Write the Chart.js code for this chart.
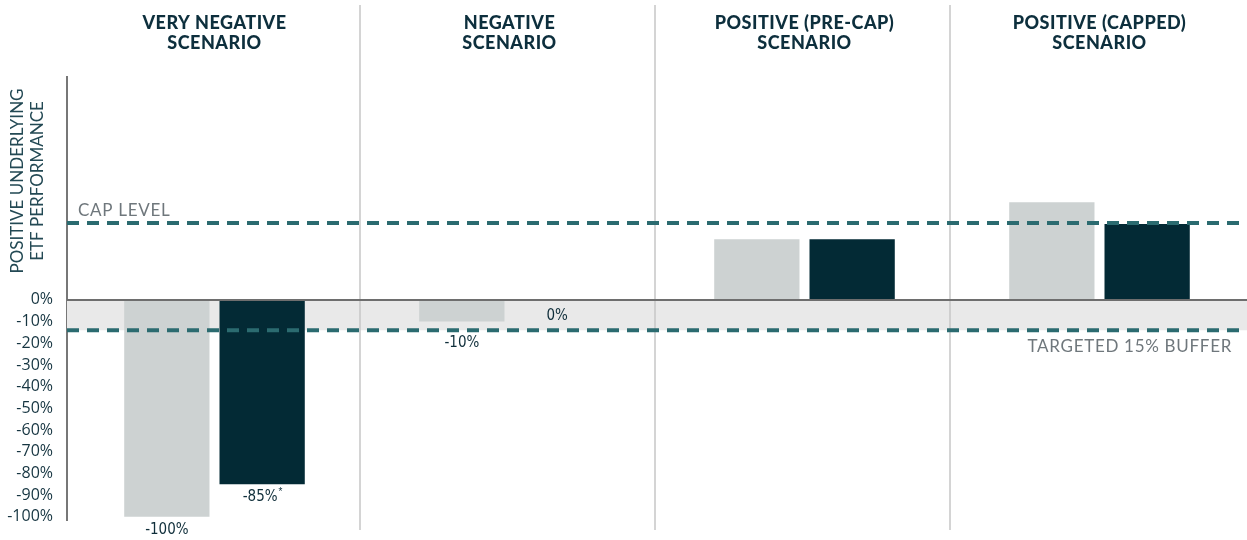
<!DOCTYPE html>
<html>
<head>
<meta charset="utf-8">
<script src="https://cdn.jsdelivr.net/npm/chart.js@4.4.0/dist/chart.umd.min.js"></script>
<style>
  html, body { margin: 0; padding: 0; background: #fff; }
  #wrap { width: 1247px; height: 540px; }
</style>
</head>
<body>
<div id="wrap"><canvas id="bufferChart" width="1247" height="540"></canvas></div>
<script>
// scenario headers (two lines each)
const scenarios = [
  ['VERY NEGATIVE', 'SCENARIO'],
  ['NEGATIVE', 'SCENARIO'],
  ['POSITIVE (PRE-CAP)', 'SCENARIO'],
  ['POSITIVE (CAPPED)', 'SCENARIO']
];
const etfReturns = [-100, -10, 28, 45];   // underlying ETF (light bars)
const fundReturns = [-85, 0, 28, 35];     // buffered fund (dark bars)
const etfLabels = ['-100%', '-10%', '', ''];
const fundLabels = ['-85%*', '0%', '', ''];
const yTicks = [-100, -90, -80, -70, -60, -50, -40, -30, -20, -10, 0];
const capLevel = 35.5;
const bufferLevel = -14;
const yTitle = ['POSITIVE UNDERLYING', 'ETF PERFORMANCE'];

const navy = '#0d2f3d';
const teal = '#2b6b70';

// draw a bar value label, with the asterisk raised
function drawBarLabel(ctx, text, x, y) {
  ctx.font = '15px "Liberation Sans Narrow", "DejaVu Sans Condensed", sans-serif';
  ctx.fillStyle = '#0f2e3a';
  ctx.textBaseline = 'middle';
  if (text.endsWith('*')) {
    const main = text.slice(0, -1);
    const w = ctx.measureText(main).width;
    ctx.textAlign = 'left';
    ctx.fillText(main, x - w / 2 - 2, y);
    ctx.font = '10px "Liberation Sans Narrow", sans-serif';
    ctx.fillText('*', x + w / 2 - 1, y - 5);
  } else {
    ctx.textAlign = 'center';
    ctx.fillText(text, x, y);
  }
}

const decor = {
  id: 'decor',
  beforeDatasetsDraw(chart) {
    const { ctx, chartArea: a, scales: { x, y } } = chart;
    const y0 = y.getPixelForValue(0);
    const yb = y.getPixelForValue(bufferLevel);
    ctx.save();
    // buffer band
    ctx.fillStyle = '#e9e9e9';
    ctx.fillRect(a.left, y0, a.right - a.left, yb - y0);

    // separators between scenarios
    ctx.strokeStyle = '#c6c6c6';
    ctx.lineWidth = 1.5;
    for (let i = 1; i < scenarios.length; i++) {
      const sx = Math.round((x.getPixelForValue(i - 1) + x.getPixelForValue(i)) / 2) - 2;
      ctx.beginPath();
      ctx.moveTo(sx, 5);
      ctx.lineTo(sx, 530);
      ctx.stroke();
    }

    // headers
    ctx.fillStyle = navy;
    ctx.font = '900 18px Lato, sans-serif';
    ctx.letterSpacing = '0.5px';
    ctx.textAlign = 'center';
    ctx.textBaseline = 'middle';
    scenarios.forEach((lines, i) => {
      const cx = x.getPixelForValue(i);
      lines.forEach((t, k) => ctx.fillText(t, cx, 23 + k * 20));
    });
    ctx.letterSpacing = '0px';

    // rotated y title
    ctx.font = '400 17px Lato, sans-serif';
    ctx.fillStyle = '#234954';
    yTitle.forEach((t, k) => {
      ctx.save();
      ctx.translate(18 + k * 20, 181);
      ctx.rotate(-Math.PI / 2);
      ctx.fillText(t, 0, 0);
      ctx.restore();
    });
    ctx.restore();
  },
  afterDatasetsDraw(chart) {
    const { ctx, chartArea: a, scales: { y } } = chart;
    const y0 = y.getPixelForValue(0);
    const yc = y.getPixelForValue(capLevel);
    const yb = y.getPixelForValue(bufferLevel);
    ctx.save();
    // zero line
    ctx.strokeStyle = '#6e6e6e';
    ctx.lineWidth = 2;
    ctx.beginPath();
    ctx.moveTo(a.left, y0);
    ctx.lineTo(a.right, y0);
    ctx.stroke();

    // cap and buffer lines
    ctx.strokeStyle = teal;
    ctx.lineWidth = 4;
    ctx.setLineDash([12, 8]);
    [yc, yb].forEach(py => {
      ctx.beginPath();
      ctx.moveTo(a.left, py);
      ctx.lineTo(a.right, py);
      ctx.stroke();
    });
    ctx.setLineDash([]);

    ctx.font = '400 17px Lato, sans-serif';
    ctx.letterSpacing = '0.7px';
    ctx.fillStyle = '#6f777c';
    ctx.textBaseline = 'middle';
    ctx.textAlign = 'left';
    ctx.fillText('CAP LEVEL', a.left + 11, yc - 12);
    ctx.textAlign = 'right';
    ctx.fillText('TARGETED 15% BUFFER', a.right - 15, yb + 16);
    ctx.letterSpacing = '0px';

    // value labels under the negative / zero bars
    [[0, etfReturns, etfLabels], [1, fundReturns, fundLabels]].forEach(([d, vals, labels]) => {
      const meta = chart.getDatasetMeta(d);
      vals.forEach((v, i) => {
        if (!labels[i]) return;
        const bx = meta.data[i].x;
        let ly;
        if (v === 0) ly = y0 + 16;
        else ly = Math.max(y.getPixelForValue(v), yb) + 13;
        drawBarLabel(ctx, labels[i], bx, ly);
      });
    });
    ctx.restore();
  }
};

new Chart(document.getElementById('bufferChart'), {
  type: 'bar',
  data: {
    labels: scenarios.map(s => s.join(' ')),
    datasets: [
      { label: 'Underlying ETF', data: etfReturns, backgroundColor: '#cdd2d2', borderWidth: 0 },
      { label: 'Buffered fund', data: fundReturns, backgroundColor: '#032a35', borderWidth: 0 }
    ]
  },
  options: {
    responsive: false,
    animation: false,
    devicePixelRatio: 1,
    layout: { padding: { top: 77, bottom: 19, left: 0, right: 0 } },
    datasets: {
      bar: { categoryPercentage: 0.646, barPercentage: 0.895 }
    },
    plugins: {
      legend: { display: false },
      tooltip: { enabled: false }
    },
    scales: {
      x: { display: false },
      y: {
        min: -101.5,
        max: 102.8,
        grid: { display: false, drawTicks: false },
        border: { display: true, color: '#777', width: 2 },
        afterBuildTicks: scale => { scale.ticks = yTicks.map(v => ({ value: v })); },
        afterFit: scale => { scale.width = 67; },
        ticks: {
          padding: 14,
          color: '#163541',
          font: { family: '"Open Sans", sans-serif', size: 16, lineHeight: 0.75 },
          callback: v => v + '%'
        }
      }
    }
  },
  plugins: [decor]
});
</script>
</body>
</html>
